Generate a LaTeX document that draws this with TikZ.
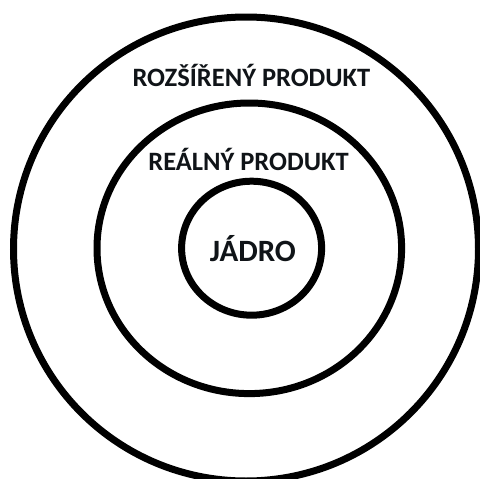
\documentclass[tikz,border=0pt]{standalone}
\usepackage{fontspec}
\setmainfont{Carlito}
\definecolor{ink}{HTML}{101418}
\begin{document}
\begin{tikzpicture}[x=1pt,y=-1pt,
  ring/.style={draw=black,line width=7pt},
  label/.style={anchor=base,inner sep=0pt,text=ink,font=\bfseries\fontsize{26.5}{30}\selectfont}]
\useasboundingbox (0,0) rectangle (480,479);
\fill[white] (0,0) rectangle (480,479);
\begin{scope}
\clip (0,0) rectangle (480,479);
\draw[ring] (246,249) ellipse [x radius=232.5, y radius=232];
\draw[ring] (249.3,248.3) ellipse [x radius=152.3, y radius=145.3];
\draw[ring] (251.6,248.2) ellipse [x radius=70, y radius=67];
\end{scope}
\node[label] (ext) at (251.4,86) {ROZŠÍŘENÝ PRODUKT};
\node[label] (real) at (248.5,170.7) {REÁLNÝ PRODUKT};
\node[label,font=\bfseries\fontsize{31}{36}\selectfont] (core) at (252.9,261.7) {JÁDRO};
\end{tikzpicture}
\end{document}
